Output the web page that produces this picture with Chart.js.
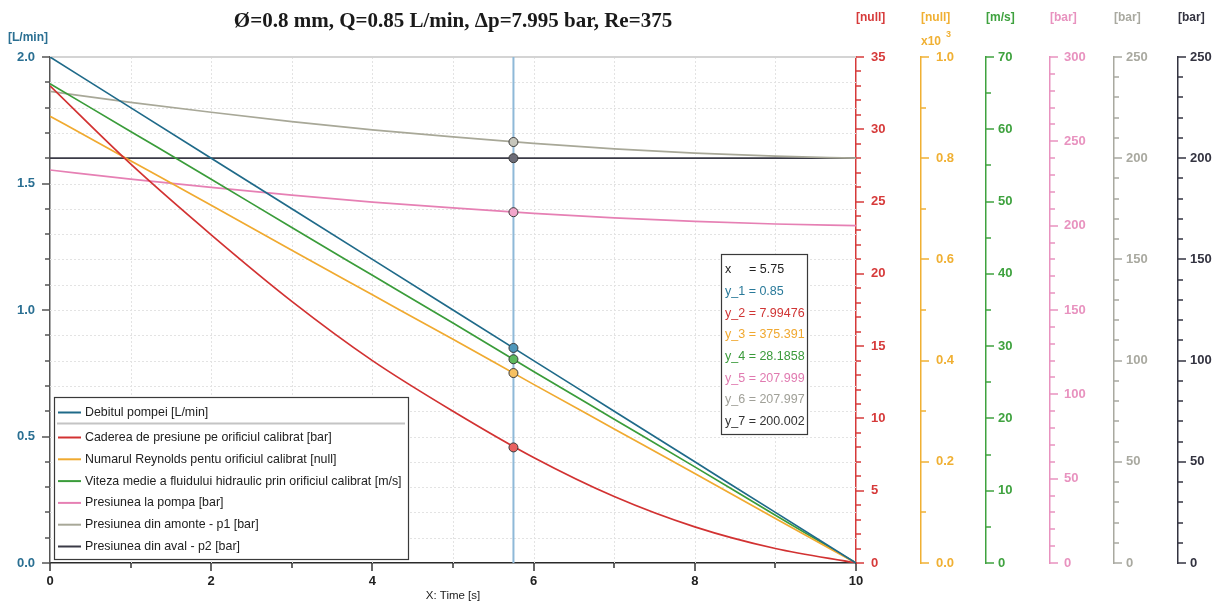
<!DOCTYPE html>
<html><head><meta charset="utf-8">
<script src="https://cdn.jsdelivr.net/npm/chart.js@4.4.1/dist/chart.umd.min.js"></script>
<style>html,body{margin:0;padding:0;background:#fff}#wrap{width:1216px;height:605px;position:relative}</style>
</head><body><div id="wrap"><canvas id="c" width="1216" height="605"></canvas></div>
<script>
// ---------- DATA ----------
const timeS = [0,1,2,3,4,5,6,7,8,9,10];
const debitPompei = [2.0,1.8,1.6,1.4,1.2,1.0,0.8,0.6,0.4,0.2,0.0];
const caderePresiune = [33.0,27.6,22.7,18.1,14.0,10.5,7.3,4.6,2.5,1.0,0.0];
const reynolds = [883,795,707,618,530,442,353,265,177,88,0];
const viteza = [66.3,59.7,53.1,46.4,39.8,33.2,26.5,19.9,13.3,6.6,0.0];
const presPompa = [233.0,227.6,222.7,218.1,214.0,210.5,207.3,204.6,202.5,201.0,200.0];
const presAmonte = [233.0,227.6,222.7,218.1,214.0,210.5,207.3,204.6,202.5,201.0,200.0];
const presAval = [200,200,200,200,200,200,200,200,200,200,200];

const seriesNames = [
  'Debitul pompei [L/min]',
  'Caderea de presiune pe orificiul calibrat [bar]',
  'Numarul Reynolds pentu orificiul calibrat [null]',
  'Viteza medie a fluidului hidraulic prin orificiul calibrat [m/s]',
  'Presiunea la pompa [bar]',
  'Presiunea din amonte - p1 [bar]',
  'Presiunea din aval - p2 [bar]'
];
const axisUnits = ['[L/min]','[null]','[null]','[m/s]','[bar]','[bar]','[bar]'];
const cursorX = 5.75;
const cursorNames = ['y_1','y_2','y_3','y_4','y_5','y_6','y_7'];
const cursorValues = [0.85, 7.99476, 375.391, 28.1858, 207.999, 207.997, 200.002];
const chartTitle = 'Ø=0.8 mm, Q=0.85 L/min, Δp=7.995 bar, Re=375';
const xAxisTitle = 'X: Time [s]';

// ---------- STYLE ----------
const lineColors = ['#1f6a89','#d23232','#f0aa30','#3a9c3a','#e680b4','#a8a898','#3a3a46'];
const markerFill = ['#4f97bb','#e86262','#f6c061','#5cb85c','#f2a6cb','#c6c6bc','#6c6c78'];
const axisColors = ['#2a6f92','#d63a3a','#f0b033','#3fa23f','#e892bf','#a9a9a0','#333340'];
const textColors = ['#2a7a9a','#d03535','#f0a830','#3a9a3a','#e07ab0','#a0a098','#333'];
const axisIds = ['y','y2','y3','y4','y5','y6','y7'];
const seriesData = [debitPompei, caderePresiune, reynolds, viteza, presPompa, presAmonte, presAval];

Chart.defaults.font.family = "'Liberation Sans', Arial, sans-serif";

const datasets = seriesData.map((arr, i) => ({
  label: seriesNames[i],
  data: arr.map((v, k) => ({x: timeS[k], y: v})),
  yAxisID: axisIds[i],
  borderColor: lineColors[i],
  backgroundColor: lineColors[i],
  borderWidth: 1.7,
  pointRadius: 0,
  cubicInterpolationMode: 'monotone',
  fill: false
}));

function isMult(v, m) { const r = v / m; return Math.abs(r - Math.round(r)) < 1e-6; }
function rightAxis(i, min, max, step, major, fmt, width, pad) {
  return {
    type: 'linear', position: 'right', min: min, max: max,
    grid: {display: false, drawTicks: true, tickLength: 8},
    border: {display: true, color: axisColors[i], width: 1.5},
    ticks: {stepSize: step, autoSkip: false, padding: pad, color: axisColors[i],
      font: {size: 13, weight: 'bold'},
      callback: v => isMult(v, major) ? fmt(v) : ''},
    afterFit: s => { s.width = width; }
  };
}

function drawTickMarks(ctx, scale, side, color, majorLen, minorLen) {
  ctx.save();
  ctx.strokeStyle = color; ctx.lineWidth = 1.5;
  scale.ticks.forEach(t => {
    const len = (t.label === '' ? minorLen : majorLen);
    const p = Math.round(scale.getPixelForValue(t.value));
    ctx.beginPath();
    if (side === 'bottom') { ctx.moveTo(p, scale.top); ctx.lineTo(p, scale.top + len); }
    else if (side === 'left') { ctx.moveTo(scale.right, p); ctx.lineTo(scale.right - len, p); }
    else { ctx.moveTo(scale.left, p); ctx.lineTo(scale.left + len, p); }
    ctx.stroke();
  });
  ctx.restore();
}

const overlay = {
  id: 'overlay',
  beforeDatasetsDraw(chart) {
    const {ctx, chartArea: a, scales} = chart;
    ctx.save();
    ctx.strokeStyle = '#e3e3e3'; ctx.lineWidth = 1; ctx.setLineDash([2, 2]);
    scales.x.ticks.forEach(t => {
      if (t.value <= scales.x.min || t.value >= scales.x.max) return;
      const p = Math.round(scales.x.getPixelForValue(t.value)) + 0.5;
      ctx.beginPath(); ctx.moveTo(p, a.top); ctx.lineTo(p, a.bottom); ctx.stroke();
    });
    scales.y.ticks.forEach(t => {
      if (t.value <= scales.y.min + 1e-9 || t.value >= scales.y.max - 1e-9) return;
      const p = Math.round(scales.y.getPixelForValue(t.value)) + 0.5;
      ctx.beginPath(); ctx.moveTo(a.left, p); ctx.lineTo(a.right, p); ctx.stroke();
    });
    ctx.setLineDash([]);
    ctx.strokeStyle = '#d4d4d4'; ctx.lineWidth = 2;
    ctx.beginPath(); ctx.moveTo(a.left, a.top); ctx.lineTo(a.right, a.top); ctx.stroke();
    const cx = scales.x.getPixelForValue(cursorX);
    ctx.strokeStyle = '#8fb9d8'; ctx.lineWidth = 2;
    ctx.beginPath(); ctx.moveTo(cx, a.top); ctx.lineTo(cx, a.bottom); ctx.stroke();
    ctx.restore();
  },
  afterDatasetsDraw(chart) {
    const {ctx, chartArea: a, scales} = chart;
    ctx.save();
    // markers at cursor
    const cx = scales.x.getPixelForValue(cursorX);
    cursorValues.forEach((v, i) => {
      const py = scales[axisIds[i]].getPixelForValue(v);
      ctx.beginPath(); ctx.arc(cx, py, 4.5, 0, Math.PI * 2);
      ctx.fillStyle = markerFill[i]; ctx.fill();
      ctx.strokeStyle = '#3a3a3a'; ctx.lineWidth = 1; ctx.stroke();
    });
    // legend box
    const lx = a.left + 4, lw = 354, lh = 162, ly = a.bottom - 4 - lh;
    ctx.fillStyle = '#fff'; ctx.fillRect(lx, ly, lw, lh);
    ctx.strokeStyle = '#3a3a3a'; ctx.lineWidth = 1.2; ctx.strokeRect(lx + 0.5, ly + 0.5, lw, lh);
    ctx.font = "12.4px 'Liberation Sans', Arial, sans-serif";
    ctx.textBaseline = 'middle'; ctx.textAlign = 'left';
    seriesNames.forEach((name, i) => {
      const ry = i === 0 ? ly + 15.5 : ly + 40.5 + (i - 1) * 21.8;
      ctx.strokeStyle = lineColors[i]; ctx.lineWidth = 2;
      ctx.beginPath(); ctx.moveTo(lx + 4, ry); ctx.lineTo(lx + 27, ry); ctx.stroke();
      ctx.fillStyle = '#222'; ctx.fillText(name, lx + 31, ry);
    });
    ctx.strokeStyle = '#c4c4c4'; ctx.lineWidth = 2;
    ctx.beginPath(); ctx.moveTo(lx + 3, ly + 26.5); ctx.lineTo(lx + lw - 3, ly + 26.5); ctx.stroke();
    // cursor value box
    const bx = a.left + 671, by = a.top + 197, bw = 86, bh = 180;
    ctx.fillStyle = '#fff'; ctx.fillRect(bx, by, bw, bh);
    ctx.strokeStyle = '#3a3a3a'; ctx.lineWidth = 1.2; ctx.strokeRect(bx + 0.5, by + 0.5, bw, bh);
    ctx.font = "12.5px 'Liberation Sans', Arial, sans-serif";
    ctx.fillStyle = '#222';
    ctx.fillText('x', bx + 4, by + 15.5);
    ctx.fillText('= ' + cursorX, bx + 28, by + 15.5);
    cursorNames.forEach((n, i) => {
      ctx.fillStyle = textColors[i];
      ctx.fillText(n + ' = ' + cursorValues[i], bx + 4, by + 37.5 + i * 21.7);
    });
    ctx.restore();
  },
  afterDraw(chart) {
    const {ctx, chartArea: a, scales} = chart;
    drawTickMarks(ctx, scales.x, 'bottom', '#333', 8, 5);
    drawTickMarks(ctx, scales.y, 'left', '#555', 8, 5);
    for (let i = 1; i < axisIds.length; i++) drawTickMarks(ctx, scales[axisIds[i]], 'right', axisColors[i], 8, 5);
    ctx.save();
    ctx.textBaseline = 'middle'; ctx.textAlign = 'left';
    ctx.font = "bold 12px 'Liberation Sans', Arial, sans-serif";
    ctx.fillStyle = axisColors[0];
    ctx.fillText(axisUnits[0], 8, 38);
    for (let i = 1; i < axisIds.length; i++) {
      ctx.fillStyle = axisColors[i];
      ctx.fillText(axisUnits[i], scales[axisIds[i]].left, 18);
    }
    // x10^3 multiplier of Reynolds axis
    const s3 = scales.y3;
    ctx.fillStyle = axisColors[2];
    ctx.fillText('x10', s3.left, 42);
    ctx.font = "bold 9px 'Liberation Sans', Arial, sans-serif";
    ctx.fillText('3', s3.left + 25, 35);
    // title
    ctx.textAlign = 'center';
    ctx.font = "bold 21px 'Liberation Serif', 'Times New Roman', serif";
    ctx.fillStyle = '#1a1a1a';
    ctx.fillText(chartTitle, (a.left + a.right) / 2, 22);
    ctx.restore();
  }
};

new Chart(document.getElementById('c'), {
  type: 'line',
  data: {datasets: datasets},
  options: {
    responsive: false, animation: false, devicePixelRatio: 1,
    layout: {padding: {top: 57, left: 0, right: 0, bottom: 0}},
    plugins: {legend: {display: false}, title: {display: false}, tooltip: {enabled: false}},
    scales: {
      x: {
        type: 'linear', position: 'bottom', min: 0, max: 10,
        grid: {display: false, drawTicks: true, tickLength: 8},
        border: {display: true, color: '#2a2a2a', width: 1.5},
        ticks: {stepSize: 1, autoSkip: false, maxRotation: 0, padding: 3, color: '#222',
          font: {size: 13, weight: 'bold'},
          callback: v => isMult(v, 2) ? String(v) : ''},
        title: {display: true, text: xAxisTitle, color: '#222', font: {size: 11.5}, padding: {top: 0, bottom: 2}},
        afterFit: s => { s.height = 42; }
      },
      y: {
        type: 'linear', position: 'left', min: 0, max: 2,
        grid: {display: false, drawTicks: true, tickLength: 8},
        border: {display: true, color: '#555', width: 1.5},
        ticks: {stepSize: 0.1, autoSkip: false, padding: 7, color: axisColors[0],
          font: {size: 13, weight: 'bold'},
          callback: v => isMult(v, 0.5) ? v.toFixed(1) : ''},
        afterFit: s => { s.width = 50; }
      },
      y2: rightAxis(1, 0, 35, 1, 5, v => String(v), 65, 7),
      y3: rightAxis(2, 0, 1000, 100, 200, v => (v / 1000).toFixed(1), 65, 7),
      y4: rightAxis(3, 0, 70, 5, 10, v => String(v), 64, 4),
      y5: rightAxis(4, 0, 300, 10, 50, v => String(v), 64, 6),
      y6: rightAxis(5, 0, 250, 10, 50, v => String(v), 64, 4),
      y7: rightAxis(6, 0, 250, 10, 50, v => String(v), 38, 4)
    }
  },
  plugins: [overlay]
});
</script>
</body></html>
